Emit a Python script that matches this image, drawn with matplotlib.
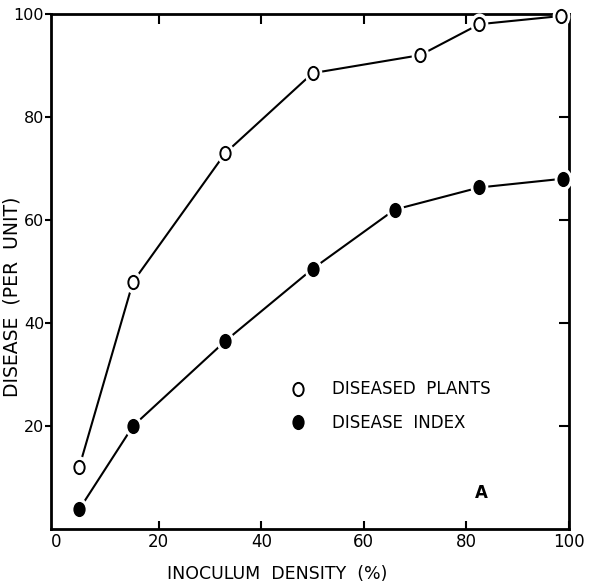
import matplotlib
matplotlib.use("Agg")
import matplotlib.pyplot as plt
import numpy as np
from matplotlib.path import Path
from matplotlib.lines import Line2D

# data
density = [4.5, 15, 33, 50, 71, 82.5, 98.5]
diseased_plants = [12, 48, 73, 88.5, 92, 98, 99.6]

density_idx = [4.5, 15, 33, 50, 66, 82.5, 98.8]
disease_index = [3.8, 20, 36.5, 50.5, 62, 66.3, 68]

xticks = [0, 20, 40, 60, 80, 100]
yticks = [20, 40, 60, 80, 100]

plt.rcParams['font.family'] = ['DejaVu Sans']

# slightly tall ellipse, like the hand-lettered "O"
circ = Path.unit_circle()
oval = Path(circ.vertices * [0.78, 1.0], circ.codes)

fig = plt.figure(figsize=(5.91, 5.82), dpi=100)
ax = fig.add_axes([0.0863, 0.0911, 0.8765, 0.885])

lw = 1.5
for xs, ys, face in [(density, diseased_plants, 'white'),
                     (density_idx, disease_index, 'black')]:
    ax.plot(xs, ys, color='black', lw=lw, zorder=2, clip_on=False)
    # white halo so the line stops short of each marker
    ax.plot(xs, ys, ls='none', marker=oval, ms=15, mfc='white',
            mec='white', zorder=3, clip_on=False)
    ax.plot(xs, ys, ls='none', marker=oval, ms=9.5, mfc=face,
            mec='black', mew=1.4, zorder=4, clip_on=False)

ax.set_xlim(-1, 99.6)
ax.set_ylim(0, 100)
ax.set_xticks(xticks)
ax.set_yticks(yticks)
ax.tick_params(axis='y', direction='out', length=4, width=1.5,
               labelsize=11.5, pad=1)
ax.tick_params(axis='x', direction='in', length=6, width=1.5,
               labelsize=12, pad=3, top=True)
ax.tick_params(axis='y', which='both', right=True)
for t in ax.yaxis.get_major_ticks():
    t.tick2line.set_marker(matplotlib.lines.TICKLEFT)
    t.tick2line.set_markersize(7)
for t in ax.xaxis.get_major_ticks():
    t.tick2line.set_markersize(7)
# the 0 tick sits in the corner, no visible mark there
ax.xaxis.get_major_ticks()[0].tick1line.set_visible(False)
ax.xaxis.get_major_ticks()[0].tick2line.set_visible(False)

for s in ax.spines.values():
    s.set_linewidth(2)

ax.set_xlabel('INOCULUM  DENSITY  (%)', fontsize=12.5)
ax.set_ylabel('DISEASE  (PER  UNIT)', fontsize=13.5)
ax.xaxis.set_label_coords(0.436, -0.07)
ax.yaxis.set_label_coords(-0.057, 0.45)

handles = [
    Line2D([], [], ls='none', marker=oval, ms=9.5, mfc='white', mec='black', mew=1.4),
    Line2D([], [], ls='none', marker=oval, ms=9.5, mfc='black', mec='black', mew=1.4),
]
ax.legend(handles, ['DISEASED  PLANTS', 'DISEASE  INDEX'],
          loc='center left', bbox_to_anchor=(0.445, 0.238),
          frameon=False, fontsize=12, handlelength=1.0,
          handletextpad=1.5, labelspacing=0.95, borderpad=0)

ax.text(0.83, 0.07, 'A', transform=ax.transAxes, fontsize=12,
        fontweight='bold', ha='center', va='center')

fig.savefig('out.png', dpi=100)
